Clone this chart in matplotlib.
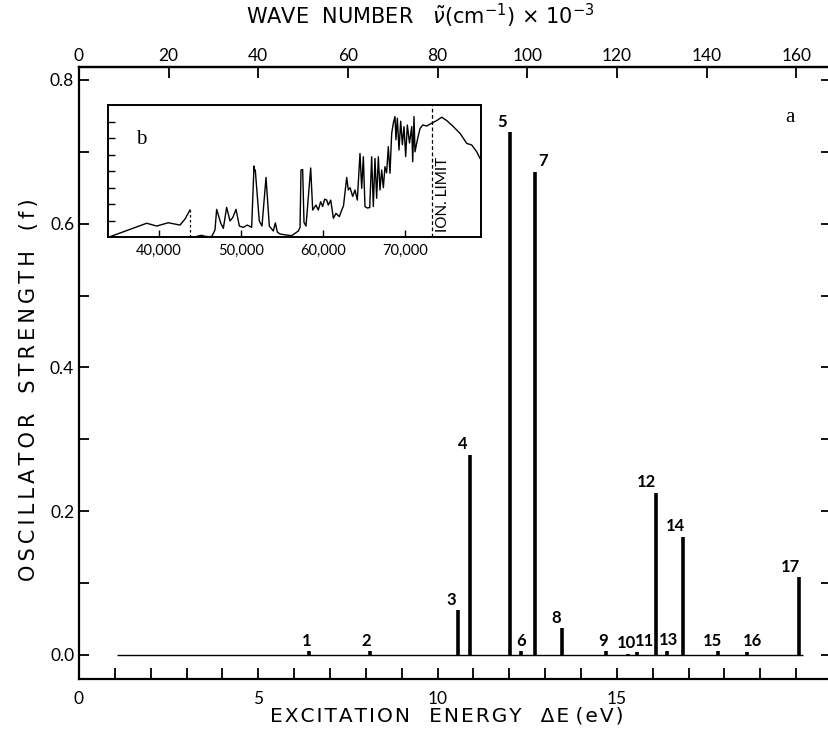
import numpy as np
import matplotlib.pyplot as plt
from matplotlib.ticker import MultipleLocator, FixedLocator, NullFormatter

plt.rcParams['font.family'] = ['Lato', 'DejaVu Sans']

# main panel: transitions
line_ids = ['1', '2', '3', '4', '5', '6', '7', '8', '9', '10', '11', '12', '13', '14', '15', '16', '17']
energy_ev = [6.42, 8.12, 10.58, 10.89, 12.02, 12.33, 12.72, 13.46, 14.69, 15.30, 15.55,
             16.10, 16.41, 16.84, 17.81, 18.63, 20.07]
osc_strength = [0.005, 0.005, 0.062, 0.278, 0.727, 0.005, 0.672, 0.037, 0.005, 0.002, 0.004,
                0.225, 0.006, 0.164, 0.005, 0.004, 0.108]
# label offsets (points) relative to the bar top
label_dx = [-2, -3, -5, -5, -6, 0, 6, -4, -2, -1, 6, -7, 1, -5, -4, 4, -6]

# inset: absorption spectrum (wavenumber cm-1, arbitrary units)
spec_a_wn = [33820, 38500, 39720, 41130, 42560, 43170, 43780]
spec_a_val = [0.0, 0.85, 0.68, 0.88, 0.74, 1.1, 1.65]
spec_b_wn = [44400, 44800, 45200, 45600, 46000, 46430, 46830, 47030, 47520, 47845, 48250,
             48660, 49000, 49390, 49800, 50285, 50770, 51300, 51585, 51660, 51744, 51830,
             52230, 52560, 53050, 53455, 53940, 54190, 54430, 54756, 55500, 56180, 56990,
             57200, 57317, 57520, 57683, 57927, 58500, 58743, 59146, 59427, 59714, 59958,
             60200, 60446, 60649, 60942, 61267, 61585, 61991, 62284, 62500, 62890, 63090,
             63300, 63620, 63900, 64186, 64512, 64720, 64920, 65120, 65405, 65700, 65935,
             66137, 66340, 66546, 66750, 66950, 67158, 67360, 67560, 67760, 67967, 68170,
             68378, 68575, 68780, 68900, 69065, 69270, 69475, 69680, 69880, 70085, 70285,
             70550, 70820, 70942, 71100, 71220, 71506, 71835, 72160, 72650, 73260, 73870,
             74480, 75090, 75900, 76720, 77530, 78140, 78750, 79150]
spec_b_val = [0.02, 0.08, 0.12, 0.06, 0.04, 0.05, 0.45, 1.69, 0.87, 0.54, 1.81,
              0.99, 1.2, 1.69, 0.68, 0.60, 0.74, 0.60, 4.31, 4.0, 4.07, 3.5,
              0.99, 0.68, 3.62, 0.68, 0.38, 0.87, 0.32, 0.2, 0.14, 0.1, 0.38,
              0.6, 4.07, 4.10, 0.90, 0.68, 4.19, 1.65, 1.95, 1.65, 2.15, 1.86,
              2.3, 2.26, 1.95, 2.25, 1.15, 1.45, 1.25, 1.65, 1.9, 3.62, 2.86,
              3.0, 2.47, 2.86, 2.25, 5.07, 2.96, 4.87, 1.86, 1.77, 1.8, 4.87,
              1.86, 4.77, 2.36, 4.87, 2.86, 4.07, 3.0, 4.27, 3.9, 5.48, 3.87,
              6.28, 6.9, 7.3, 5.9, 7.2, 5.28, 7.02, 5.6, 6.69, 4.88, 6.79,
              5.7, 6.69, 4.57, 7.3, 5.17, 5.88, 6.58, 6.79, 6.73, 6.9, 7.06,
              7.26, 7.06, 6.69, 6.28, 5.68, 5.58, 5.17, 4.77]
ion_limit = 73260
break_wn = 43780
top_ticks = [0, 20, 40, 60, 80, 100, 120, 140, 160]

EV_TO_KCM = 8.0  # scale used on the drawn top axis


def spaced(words, gap, word_gaps):
    # letter-spacing: put a narrow space between letters of each word
    out = gap.join(words[0])
    for w, g in zip(words[1:], word_gaps):
        out += g + gap.join(w)
    return out


W, H = 829, 731
fig = plt.figure(figsize=(W / 100, H / 100), dpi=100)
ax = fig.add_axes([79 / W, (H - 679) / H, (831 - 79) / W, (679 - 67) / H])

ax.hlines(0, 1.05, 20.2, color='black', lw=1.0)
ax.vlines(energy_ev, 0, osc_strength, color='black', lw=2.6)
for lab, e, f, dx in zip(line_ids, energy_ev, osc_strength, label_dx):
    ax.annotate(lab, xy=(e, f), xytext=(dx, 2), textcoords='offset points',
                ha='center', va='bottom', fontsize=12, fontweight='bold')

ax.set_xlim(0, 20.97)
ax.set_ylim(-0.0334, 0.818)
ax.spines['right'].set_visible(False)
for s in ['left', 'bottom', 'top']:
    ax.spines[s].set_linewidth(1.6)

ax.xaxis.set_major_locator(FixedLocator([0, 5, 10, 15]))
ax.xaxis.set_minor_locator(MultipleLocator(1))
ax.yaxis.set_major_locator(MultipleLocator(0.2))
ax.yaxis.set_minor_locator(MultipleLocator(0.1))
ax.yaxis.set_major_formatter(plt.FuncFormatter(lambda v, p: f'{v:.1f}'))
ax.tick_params(which='both', direction='in', length=7, width=1.3, right=True,
               labelsize=12.5)
ax.tick_params(axis='x', which='both', length=8, pad=9)

label_font = dict(family='DejaVu Sans', fontsize=15)
fig.text(447 / W, 1 - 716 / H,
         spaced(['EXCITATION', 'ENERGY', 'ΔE', '(eV)'], '\u200a', ['   ', '   ', ' ']),
         ha='center', va='center', family='DejaVu Sans', fontsize=14.5)
fig.text(29 / W, 1 - 390 / H,
         spaced(['OSCILLATOR', 'STRENGTH', '(f)'], '\u2009', ['   ', '   ']),
         rotation=90, ha='center', va='center', **label_font)
fig.text(420 / W, 1 - 16 / H, r'WAVE  NUMBER   $\tilde{\nu}$(cm$^{-1}$) × 10$^{-3}$',
         ha='center', va='center', **label_font)

top = ax.secondary_xaxis('top', functions=(lambda e: e * EV_TO_KCM, lambda w: w / EV_TO_KCM))
top.xaxis.set_major_locator(FixedLocator(top_ticks))
top.tick_params(direction='in', length=8, width=1.3, labelsize=12.5, pad=2)
top.spines['top'].set_linewidth(1.6)

fig.text(790 / W, 1 - 117 / H, 'a', family='Liberation Serif',
         fontsize=15, ha='center', va='center')

# inset b
axi = fig.add_axes([108 / W, (H - 237.3) / H, (481 - 108) / W, (237.3 - 105) / H])
axi.plot(spec_a_wn, spec_a_val, color='black', lw=1.0)
axi.plot([break_wn, break_wn], [0, spec_a_val[-1]], color='black', lw=0.9, ls=(0, (2, 2)))
axi.plot(spec_b_wn, spec_b_val, color='black', lw=1.0)
axi.axvline(ion_limit, color='black', lw=0.9, ls=(0, (3, 2)))
axi.text(ion_limit + 500, 0.3, 'ION. LIMIT', rotation=90, ha='left', va='bottom', fontsize=11)
axi.text(0.09, 0.74, 'b', transform=axi.transAxes, family='Liberation Serif', fontsize=15,
         ha='center', va='center')
axi.set_xlim(33780, 79270)
axi.set_ylim(0, 8)
axi.xaxis.set_major_locator(FixedLocator([40000, 50000, 60000, 70000]))
axi.xaxis.set_major_formatter(plt.FuncFormatter(lambda v, p: f'{int(v):,}'))
axi.yaxis.set_major_locator(FixedLocator([1, 2, 3, 4, 5, 6, 7]))
axi.yaxis.set_major_formatter(NullFormatter())
axi.tick_params(direction='in', length=5, width=1.0, labelsize=10.5, pad=5)
for s in axi.spines.values():
    s.set_linewidth(1.4)

fig.savefig('out.png', dpi=100)
